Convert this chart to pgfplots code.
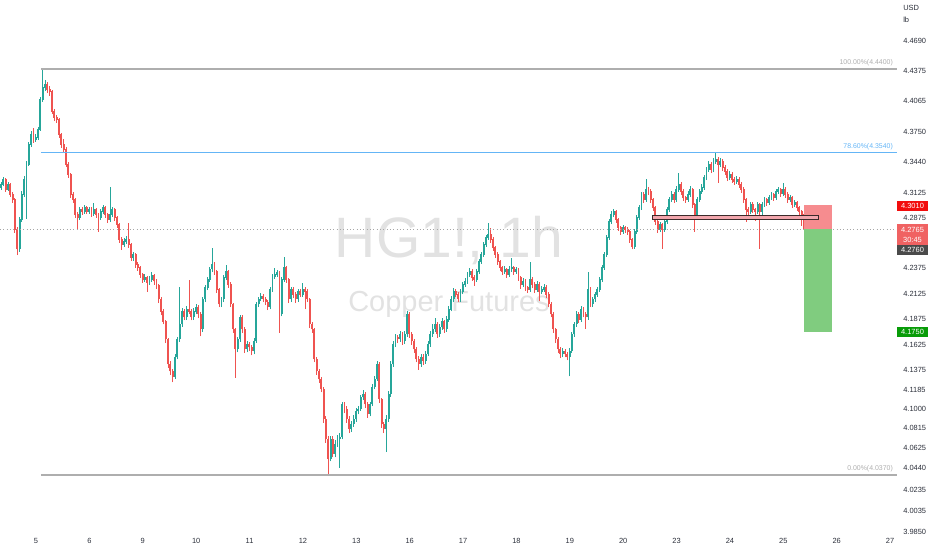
\documentclass[border=0pt]{standalone}
\usepackage{fontspec}
\setmainfont{Liberation Sans}
\usepackage{pgfplots}
\usepackage{pgfplotstable}
\pgfplotsset{compat=1.18}

\definecolor{upc}{HTML}{26A69A}
\definecolor{dnc}{HTML}{EF5350}
\definecolor{fibgray}{HTML}{AEAEAE}
\definecolor{fibblue}{HTML}{64B5F6}
\definecolor{wmark}{HTML}{E2E2E2}
\definecolor{lbl}{HTML}{2A2E39}
\definecolor{stopbox}{HTML}{F68C8F}
\definecolor{tgtbox}{HTML}{80CC7F}
\definecolor{zonefill}{HTML}{F2A6AD}
\definecolor{zoneedge}{HTML}{3C2A2A}
\definecolor{tagred}{HTML}{F20D0D}
\definecolor{taglast}{HTML}{F06262}
\definecolor{taggray}{HTML}{4A4A4A}
\definecolor{taggreen}{HTML}{089C08}

% hourly candles, i = bar index; columns: open high low close
\pgfplotstableread{
i o h l c
0 4.3180 4.3245 4.3160 4.3213
1 4.3213 4.3290 4.3195 4.3263
3 4.3162 4.3240 4.3150 4.3213
8 4.2561 4.2890 4.2540 4.2860
9 4.2860 4.3150 4.2840 4.3112
10 4.3112 4.3300 4.3090 4.3263
11 4.3263 4.3450 4.2870 4.3415
12 4.3415 4.3650 4.3400 4.3618
13 4.3618 4.3760 4.3600 4.3720
15 4.3669 4.3730 4.3650 4.3690
16 4.3690 4.3800 4.3670 4.3771
17 4.3771 4.4110 4.3760 4.4079
18 4.4079 4.4400 4.4060 4.4204
19 4.4204 4.4290 4.4170 4.4235
34 4.2880 4.2990 4.2860 4.2960
36 4.2940 4.3010 4.2920 4.2980
38 4.2940 4.2990 4.2920 4.2960
40 4.2920 4.3030 4.2900 4.2960
43 4.2880 4.2970 4.2860 4.2940
44 4.2940 4.3010 4.2920 4.2980
47 4.2860 4.3192 4.2840 4.2910
48 4.2910 4.2990 4.2890 4.2960
53 4.2610 4.2680 4.2590 4.2640
54 4.2640 4.2700 4.2620 4.2660
57 4.2481 4.2540 4.2450 4.2511
62 4.2263 4.2320 4.2240 4.2283
64 4.2234 4.2300 4.2210 4.2263
65 4.2263 4.2340 4.2240 4.2303
75 4.1306 4.1530 4.1290 4.1500
76 4.1500 4.1700 4.1480 4.1675
77 4.1675 4.2190 4.1650 4.1821
78 4.1821 4.1980 4.1800 4.1948
80 4.1890 4.2000 4.1870 4.1968
83 4.1890 4.1980 4.1870 4.1948
84 4.1948 4.2020 4.1920 4.1988
87 4.1772 4.2090 4.1750 4.2066
88 4.2066 4.2210 4.2040 4.2184
89 4.2184 4.2290 4.2160 4.2263
90 4.2263 4.2390 4.2240 4.2362
91 4.2362 4.2581 4.2340 4.2412
95 4.2017 4.2090 4.1990 4.2066
96 4.2066 4.2310 4.2040 4.2283
97 4.2283 4.2410 4.2260 4.2342
102 4.1577 4.1700 4.1550 4.1675
103 4.1675 4.1910 4.1650 4.1890
106 4.1577 4.1660 4.1550 4.1626
109 4.1558 4.1690 4.1530 4.1655
110 4.1655 4.2040 4.1640 4.2017
111 4.2017 4.2090 4.1990 4.2066
112 4.2066 4.2130 4.2050 4.2095
116 4.1988 4.2190 4.1970 4.2164
117 4.2164 4.2320 4.2140 4.2293
118 4.2293 4.2380 4.2270 4.2313
119 4.2313 4.2360 4.2290 4.2332
121 4.1919 4.2290 4.1900 4.2263
122 4.2263 4.2491 4.2240 4.2382
125 4.2066 4.2190 4.2040 4.2164
128 4.2066 4.2170 4.2040 4.2144
130 4.2115 4.2230 4.2090 4.2164
142 4.0522 4.0740 4.0500 4.0712
144 4.0570 4.0700 4.0540 4.0665
145 4.0665 4.0750 4.0640 4.0712
146 4.0712 4.0770 4.0440 4.0731
147 4.0731 4.1070 4.0710 4.1046
151 4.0807 4.0890 4.0780 4.0855
152 4.0855 4.0940 4.0830 4.0903
153 4.0903 4.1010 4.0880 4.0979
154 4.0979 4.1030 4.0950 4.0998
155 4.0998 4.1140 4.0980 4.1113
156 4.1113 4.1180 4.1090 4.1142
159 4.0950 4.1070 4.0930 4.1046
160 4.1046 4.1240 4.1030 4.1209
161 4.1209 4.1320 4.1190 4.1287
162 4.1287 4.1460 4.1270 4.1432
166 4.0807 4.0940 4.0589 4.0903
167 4.0903 4.1170 4.0880 4.1142
168 4.1142 4.1460 4.1120 4.1432
169 4.1432 4.1660 4.1410 4.1626
170 4.1626 4.1730 4.1600 4.1694
172 4.1675 4.1760 4.1650 4.1723
174 4.1655 4.1760 4.1630 4.1723
175 4.1723 4.1950 4.1700 4.1919
181 4.1432 4.1530 4.1410 4.1500
183 4.1461 4.1560 4.1440 4.1529
184 4.1529 4.1660 4.1510 4.1626
185 4.1626 4.1760 4.1600 4.1723
186 4.1723 4.1820 4.1700 4.1772
187 4.1772 4.1880 4.1750 4.1821
189 4.1723 4.1830 4.1700 4.1792
190 4.1792 4.1880 4.1770 4.1850
192 4.1772 4.1900 4.1750 4.1870
193 4.1870 4.2000 4.1850 4.1968
194 4.1968 4.2100 4.1950 4.2066
195 4.2066 4.2180 4.2040 4.2144
198 4.2066 4.2170 4.2040 4.2144
199 4.2144 4.2240 4.2120 4.2214
200 4.2214 4.2280 4.2190 4.2244
201 4.2244 4.2340 4.2220 4.2313
202 4.2313 4.2380 4.2290 4.2342
205 4.2263 4.2370 4.2240 4.2342
206 4.2342 4.2470 4.2320 4.2441
207 4.2441 4.2540 4.2420 4.2511
208 4.2511 4.2640 4.2490 4.2610
209 4.2610 4.2710 4.2590 4.2680
210 4.2680 4.2830 4.2660 4.2710
217 4.2342 4.2400 4.2320 4.2362
219 4.2313 4.2400 4.2290 4.2362
220 4.2362 4.2480 4.2340 4.2382
222 4.2342 4.2390 4.2320 4.2362
225 4.2214 4.2280 4.2190 4.2244
228 4.2164 4.2432 4.2140 4.2263
231 4.2164 4.2250 4.2140 4.2214
233 4.2144 4.2200 4.2120 4.2164
234 4.2164 4.2220 4.2140 4.2184
242 4.1529 4.1590 4.1500 4.1558
245 4.1500 4.1590 4.1316 4.1558
246 4.1558 4.1750 4.1540 4.1723
247 4.1723 4.1850 4.1700 4.1821
248 4.1821 4.1950 4.1800 4.1919
250 4.1870 4.2000 4.1850 4.1968
253 4.1890 4.2340 4.1870 4.2164
255 4.2017 4.2090 4.1990 4.2066
256 4.2066 4.2140 4.2040 4.2115
257 4.2115 4.2190 4.2090 4.2164
258 4.2164 4.2290 4.2140 4.2263
259 4.2263 4.2410 4.2240 4.2382
260 4.2382 4.2540 4.2360 4.2511
261 4.2511 4.2710 4.2490 4.2680
262 4.2680 4.2870 4.2660 4.2840
263 4.2840 4.2950 4.2820 4.2910
264 4.2910 4.2970 4.2890 4.2940
268 4.2740 4.2810 4.2720 4.2780
273 4.2591 4.2770 4.2570 4.2740
274 4.2740 4.2910 4.2720 4.2880
275 4.2880 4.3010 4.2860 4.2980
276 4.2980 4.3140 4.2960 4.3112
278 4.3061 4.3273 4.3040 4.3162
284 4.2760 4.2840 4.2740 4.2810
286 4.2760 4.2870 4.2740 4.2840
287 4.2840 4.2990 4.2820 4.2960
288 4.2960 4.3090 4.2940 4.3061
289 4.3061 4.3150 4.3040 4.3112
291 4.3061 4.3200 4.3040 4.3162
292 4.3162 4.3330 4.3140 4.3213
296 4.3061 4.3150 4.3040 4.3112
297 4.3112 4.3200 4.3090 4.3162
300 4.2880 4.3090 4.2860 4.3061
301 4.3061 4.3170 4.3040 4.3142
302 4.3142 4.3220 4.3120 4.3182
303 4.3182 4.3310 4.3160 4.3283
304 4.3283 4.3390 4.3260 4.3364
305 4.3364 4.3450 4.3340 4.3415
307 4.3364 4.3480 4.3340 4.3445
308 4.3445 4.3540 4.3420 4.3465
310 4.3415 4.3480 4.3390 4.3445
314 4.3283 4.3350 4.3260 4.3314
317 4.3243 4.3300 4.3220 4.3263
323 4.2940 4.3040 4.2920 4.3010
326 4.2940 4.3040 4.2920 4.3010
328 4.2940 4.3040 4.2910 4.3010
329 4.3010 4.3090 4.2990 4.3061
331 4.3030 4.3110 4.3010 4.3081
332 4.3081 4.3140 4.3060 4.3112
334 4.3081 4.3170 4.3060 4.3142
335 4.3142 4.3190 4.3120 4.3162
337 4.3122 4.3233 4.3100 4.3162
340 4.3061 4.3110 4.3040 4.3081
342 4.3010 4.3060 4.2990 4.3030
}\up

\pgfplotstableread{
i o h l c
2 4.3263 4.3280 4.3140 4.3162
4 4.3213 4.3230 4.3090 4.3112
5 4.3112 4.3140 4.3030 4.3061
6 4.3061 4.3075 4.2730 4.2760
7 4.2760 4.2790 4.2505 4.2561
14 4.3720 4.3790 4.3640 4.3669
20 4.4235 4.4260 4.4150 4.4183
21 4.4183 4.4220 4.4120 4.4162
22 4.4162 4.4180 4.3930 4.3956
23 4.3956 4.3980 4.3860 4.3894
24 4.3894 4.3920 4.3840 4.3874
25 4.3874 4.3890 4.3690 4.3720
26 4.3720 4.3740 4.3590 4.3618
27 4.3618 4.3680 4.3540 4.3567
28 4.3567 4.3600 4.3390 4.3415
29 4.3415 4.3440 4.3280 4.3314
30 4.3314 4.3330 4.3080 4.3112
31 4.3112 4.3140 4.3030 4.3061
32 4.3061 4.3080 4.2880 4.2910
33 4.2910 4.2940 4.2770 4.2880
35 4.2960 4.2985 4.2910 4.2940
37 4.2980 4.3000 4.2915 4.2940
39 4.2960 4.2985 4.2890 4.2920
41 4.2960 4.2980 4.2880 4.2910
42 4.2910 4.2930 4.2740 4.2880
45 4.2980 4.3000 4.2880 4.2910
46 4.2910 4.2930 4.2830 4.2860
49 4.2960 4.2975 4.2850 4.2880
50 4.2880 4.2900 4.2780 4.2810
51 4.2810 4.2830 4.2630 4.2660
52 4.2660 4.2690 4.2560 4.2610
55 4.2660 4.2830 4.2580 4.2610
56 4.2610 4.2630 4.2450 4.2481
58 4.2511 4.2530 4.2380 4.2412
59 4.2412 4.2440 4.2350 4.2382
60 4.2382 4.2400 4.2280 4.2313
61 4.2313 4.2330 4.2230 4.2263
63 4.2283 4.2300 4.2140 4.2234
66 4.2303 4.2320 4.2210 4.2244
67 4.2244 4.2270 4.2170 4.2204
68 4.2204 4.2220 4.2030 4.2066
69 4.2066 4.2090 4.1910 4.1948
70 4.1948 4.1970 4.1820 4.1850
71 4.1850 4.1870 4.1640 4.1675
72 4.1675 4.1690 4.1400 4.1432
73 4.1432 4.1460 4.1330 4.1364
74 4.1364 4.1390 4.1258 4.1306
79 4.1948 4.1970 4.1860 4.1890
81 4.1968 4.2260 4.1920 4.1948
82 4.1948 4.1970 4.1860 4.1890
85 4.1988 4.2010 4.1880 4.1919
86 4.1919 4.1940 4.1704 4.1772
92 4.2412 4.2440 4.2310 4.2342
93 4.2342 4.2360 4.2130 4.2164
94 4.2164 4.2180 4.1990 4.2017
98 4.2342 4.2360 4.2180 4.2214
99 4.2214 4.2240 4.1990 4.2017
100 4.2017 4.2030 4.1740 4.1772
101 4.1772 4.1790 4.1300 4.1577
104 4.1890 4.1910 4.1740 4.1772
105 4.1772 4.1800 4.1540 4.1577
107 4.1626 4.1650 4.1560 4.1597
108 4.1597 4.1620 4.1520 4.1558
113 4.2095 4.2120 4.2040 4.2066
114 4.2066 4.2090 4.2010 4.2037
115 4.2037 4.2060 4.1960 4.1988
120 4.2332 4.2350 4.1740 4.1919
123 4.2382 4.2400 4.2230 4.2263
124 4.2263 4.2280 4.2030 4.2066
126 4.2164 4.2190 4.2080 4.2115
127 4.2115 4.2140 4.2030 4.2066
129 4.2144 4.2170 4.2090 4.2115
131 4.2164 4.2190 4.1970 4.2144
132 4.2144 4.2170 4.2040 4.2066
133 4.2066 4.2080 4.1790 4.1821
134 4.1821 4.1850 4.1740 4.1772
135 4.1772 4.1790 4.1450 4.1480
136 4.1480 4.1500 4.1330 4.1364
137 4.1364 4.1390 4.1250 4.1287
138 4.1287 4.1310 4.1160 4.1190
139 4.1190 4.1210 4.0870 4.0903
140 4.0903 4.0930 4.0680 4.0712
141 4.0712 4.0740 4.0370 4.0522
143 4.0712 4.0740 4.0540 4.0570
148 4.1046 4.1070 4.0960 4.0998
149 4.0998 4.1030 4.0870 4.0903
150 4.0903 4.0930 4.0770 4.0807
157 4.1142 4.1160 4.1010 4.1046
158 4.1046 4.1070 4.0920 4.0950
163 4.1432 4.1450 4.1060 4.1094
164 4.1094 4.1110 4.0820 4.0855
165 4.0855 4.0880 4.0770 4.0807
171 4.1694 4.1720 4.1640 4.1675
173 4.1723 4.1750 4.1620 4.1655
176 4.1919 4.1940 4.1690 4.1723
177 4.1723 4.1750 4.1620 4.1655
178 4.1655 4.1680 4.1540 4.1577
179 4.1577 4.1600 4.1450 4.1480
180 4.1480 4.1510 4.1380 4.1432
182 4.1500 4.1530 4.1430 4.1461
188 4.1821 4.1850 4.1690 4.1723
191 4.1850 4.1870 4.1740 4.1772
196 4.2144 4.2170 4.2090 4.2115
197 4.2115 4.2140 4.2040 4.2066
203 4.2342 4.2370 4.2250 4.2283
204 4.2283 4.2310 4.2200 4.2263
211 4.2710 4.2780 4.2630 4.2660
212 4.2660 4.2690 4.2550 4.2581
213 4.2581 4.2600 4.2480 4.2511
214 4.2511 4.2540 4.2410 4.2441
215 4.2441 4.2460 4.2350 4.2382
216 4.2382 4.2400 4.2310 4.2342
218 4.2362 4.2380 4.2280 4.2313
221 4.2382 4.2400 4.2310 4.2342
223 4.2362 4.2380 4.2250 4.2283
224 4.2283 4.2300 4.2170 4.2214
226 4.2244 4.2270 4.2150 4.2184
227 4.2184 4.2200 4.2130 4.2164
229 4.2263 4.2290 4.2180 4.2214
230 4.2214 4.2240 4.2130 4.2164
232 4.2214 4.2240 4.2050 4.2144
235 4.2184 4.2210 4.2080 4.2115
236 4.2115 4.2140 4.1990 4.2017
237 4.2017 4.2040 4.1890 4.1919
238 4.1919 4.1940 4.1740 4.1772
239 4.1772 4.1790 4.1640 4.1675
240 4.1675 4.1700 4.1540 4.1577
241 4.1577 4.1600 4.1490 4.1529
243 4.1558 4.1580 4.1500 4.1529
244 4.1529 4.1550 4.1470 4.1500
249 4.1919 4.1940 4.1840 4.1870
251 4.1968 4.1990 4.1890 4.1919
252 4.1919 4.1940 4.1780 4.1890
254 4.2164 4.2190 4.1990 4.2017
265 4.2940 4.2960 4.2830 4.2860
266 4.2860 4.2880 4.2750 4.2780
267 4.2780 4.2800 4.2710 4.2740
269 4.2780 4.2800 4.2730 4.2760
270 4.2760 4.2790 4.2710 4.2740
271 4.2740 4.2760 4.2630 4.2660
272 4.2660 4.2680 4.2561 4.2591
277 4.3112 4.3140 4.3030 4.3061
279 4.3162 4.3190 4.3110 4.3142
280 4.3142 4.3170 4.3030 4.3061
281 4.3061 4.3080 4.2950 4.2980
282 4.2980 4.3000 4.2810 4.2840
283 4.2840 4.2860 4.2730 4.2760
285 4.2810 4.2830 4.2571 4.2760
290 4.3112 4.3140 4.3030 4.3061
293 4.3213 4.3240 4.3110 4.3142
294 4.3142 4.3170 4.3050 4.3081
295 4.3081 4.3100 4.3030 4.3061
298 4.3162 4.3180 4.2980 4.3010
299 4.3010 4.3030 4.2740 4.2880
306 4.3415 4.3440 4.3330 4.3364
309 4.3465 4.3490 4.3230 4.3415
311 4.3445 4.3470 4.3350 4.3384
312 4.3384 4.3410 4.3310 4.3344
313 4.3344 4.3370 4.3250 4.3283
315 4.3314 4.3340 4.3230 4.3263
316 4.3263 4.3290 4.3210 4.3243
318 4.3263 4.3290 4.3180 4.3213
319 4.3213 4.3240 4.3130 4.3162
320 4.3162 4.3190 4.3030 4.3061
321 4.3061 4.3080 4.2840 4.2960
322 4.2960 4.2990 4.2910 4.2940
324 4.3010 4.3040 4.2930 4.2960
325 4.2960 4.2980 4.2850 4.2940
327 4.3010 4.3030 4.2571 4.2940
330 4.3061 4.3080 4.3000 4.3030
333 4.3112 4.3130 4.3050 4.3081
336 4.3162 4.3180 4.3090 4.3122
338 4.3162 4.3190 4.3080 4.3112
339 4.3112 4.3140 4.3030 4.3061
341 4.3081 4.3100 4.2980 4.3010
343 4.3030 4.3050 4.2950 4.2980
344 4.2980 4.3000 4.2910 4.2940
345 4.2940 4.2960 4.2800 4.2910
346 4.2910 4.2930 4.2660 4.2765
}\dn

\begin{document}
\begin{tikzpicture}
\path[use as bounding box] (0,0) rectangle (699pt,412.5pt);

% watermark, pixel coordinates (y down)
\begin{scope}[x=0.75pt, y=-0.75pt, shift={(0,412.5pt)}]
\node[anchor=base, text=wmark, font=\fontsize{42.75}{44}\selectfont, inner sep=0pt] at (449,258) {HG1!, 1h};
\node[anchor=base, text=wmark, font=\fontsize{21.75}{23}\selectfont, inner sep=0pt] at (449,312) {Copper Futures};
\end{scope}

\begin{axis}[
    at={(0,12.75pt)}, anchor=south west,
    scale only axis, width=672.75pt, height=399.75pt,
    xmin=-0.431, xmax=386.09,
    ymode=log, ymin=3.9835, ymax=4.5122,
    axis line style={draw=none}, major tick length=0pt,
    xtick={15.1,38.1,61.1,84.1,107.1,130.1,153.1,176.1,199.1,222.1,245.1,268.1,291.1,314.1,337.1,360.1,383.1},
    xticklabels={5,6,9,10,11,12,13,16,17,18,19,20,23,24,25,26,27},
    xticklabel style={font=\fontsize{5.6}{6.5}\selectfont, text=lbl, inner sep=0pt, anchor=north, yshift=-4pt},
    ytick={4.4690,4.4375,4.4065,4.3750,4.3440,4.3125,4.2875,4.2375,4.2125,4.1875,4.1625,4.1375,4.1185,4.1000,4.0815,4.0625,4.0440,4.0235,4.0035,3.9850},
    yticklabels={4.4690,4.4375,4.4065,4.3750,4.3440,4.3125,4.2875,4.2375,4.2125,4.1875,4.1625,4.1375,4.1185,4.1000,4.0815,4.0625,4.0440,4.0235,4.0035,3.9850},
    yticklabel pos=right,
    yticklabel style={font=\fontsize{5.6}{6.5}\selectfont, text=lbl, inner sep=0pt, anchor=west, xshift=4.5pt},
    candle/.style n args={2}{draw=none, mark=none, forget plot,
        error bars/.cd, y dir=plus, y explicit, error mark=none,
        error bar style={draw=#1, line width=#2, solid}},
]

% wicks
\addplot[candle={upc}{0.65pt}]
    table[x=i, y=l, y error expr=\thisrow{h}-\thisrow{l}] {\up};
\addplot[candle={dnc}{0.65pt}]
    table[x=i, y=l, y error expr=\thisrow{h}-\thisrow{l}] {\dn};
% bodies
\addplot[candle={upc}{1.45pt}]
    table[x=i, y=o, y error expr=\thisrow{c}-\thisrow{o}+0.0005] {\up};
\addplot[candle={dnc}{1.45pt}]
    table[x=i, y=c, y error expr=\thisrow{o}-\thisrow{c}+0.0005] {\dn};

% fibonacci levels
\draw[fibgray, line width=1.1pt] (axis cs:17.2,4.4400) -- (axis cs:386.09,4.4400);
\draw[fibblue, line width=1.1pt] (axis cs:17.2,4.3540) -- (axis cs:386.09,4.3540);
\draw[fibgray, line width=1.1pt] (axis cs:17.2,4.0370) -- (axis cs:386.09,4.0370);
\node[anchor=south east, inner sep=0pt, yshift=2pt, text=fibgray, font=\fontsize{5.2}{6}\selectfont] at (axis cs:384.4,4.4400) {100.00\%(4.4400)};
\node[anchor=south east, inner sep=0pt, yshift=2pt, text=fibblue, font=\fontsize{5.2}{6}\selectfont] at (axis cs:384.4,4.3540) {78.60\%(4.3540)};
\node[anchor=south east, inner sep=0pt, yshift=2pt, text=fibgray, font=\fontsize{5.2}{6}\selectfont] at (axis cs:384.4,4.0370) {0.00\%(4.0370)};

% last price line
\draw[gray!70, dotted, line width=0.5pt] (axis cs:-0.431,4.2765) -- (axis cs:386.09,4.2765);

% long position tool
\fill[stopbox] (axis cs:346.0,4.2765) rectangle (axis cs:358.1,4.3010);
\fill[tgtbox] (axis cs:346.0,4.1750) rectangle (axis cs:358.1,4.2765);

% zone rectangle
\filldraw[fill=zonefill, draw=zoneedge, line width=0.6pt] (axis cs:280.9,4.2860) rectangle (axis cs:352.0,4.2900);
\end{axis}

% price scale tags, pixel coordinates (y down)
\begin{scope}[x=0.75pt, y=-0.75pt, shift={(0,412.5pt)}]
\tikzset{tag/.style={text=white, inner sep=0pt, font=\fontsize{5.6}{6.5}\selectfont}}
\node[anchor=west, text=lbl, inner sep=0pt, font=\fontsize{5.6}{6.5}\selectfont] at (903,8) {USD};
\node[anchor=west, text=lbl, inner sep=0pt, font=\fontsize{5.6}{6.5}\selectfont] at (903,20) {lb};
\fill[tagred] (897,201) rectangle (928,211);
\node[tag] at (912.5,206) {4.3010};
\fill[taglast] (897,224) rectangle (928,245);
\node[tag] at (912.5,229.5) {4.2765};
\node[tag] at (912.5,239.5) {30:45};
\fill[taggray] (897,245) rectangle (928,255);
\node[tag] at (912.5,250) {4.2760};
\fill[taggreen] (897,327) rectangle (928,337);
\node[tag] at (912.5,332) {4.1750};
\end{scope}
\end{tikzpicture}
\end{document}
